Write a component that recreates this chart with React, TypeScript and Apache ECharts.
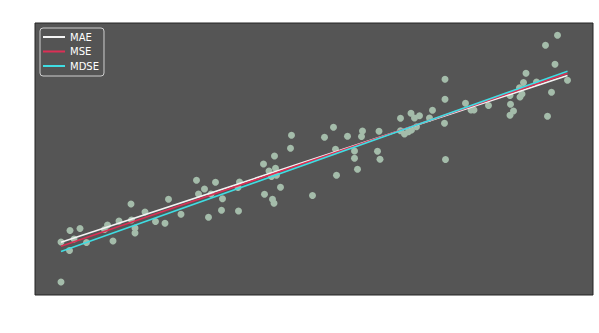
import React, { useEffect, useRef } from "react";
import * as echarts from "echarts";

const pointsX = [
  0.4, 0.4, 2.2, 2.1, 4.2, 3.0, 5.5, 9.1, 9.7, 10.8, 12.0, 14.4, 14.5, 15.2, 15.2, 17.2,
  19.3, 21.2, 21.9, 24.4, 27.5, 27.9, 29.1, 29.9, 30.4, 31.3, 32.5, 32.7, 35.9, 36.1, 35.8,
  40.9, 41.1, 42.0, 42.7, 43.1, 43.0, 43.3, 43.5, 42.5, 44.3, 46.3, 46.5,
  50.7, 53.1, 54.9, 55.3, 55.5, 57.7, 59.1, 59.1, 59.7, 60.5, 60.7, 64.0, 63.7, 64.2,
  68.3, 68.3, 69.1, 69.9, 70.5, 70.4, 71.1, 72.1, 71.5, 74.1, 74.7, 77.2, 77.2, 77.1, 77.3,
  81.3, 82.4, 83.0, 85.9, 90.2, 90.3, 90.9, 90.2, 92.1, 92.6, 92.2, 92.9, 93.4, 95.5,
  97.3, 97.7, 98.5, 99.2, 99.7, 101.7,
];
const pointsY = [
  0, 16, 20.6, 12.6, 21.4, 17.2, 15.8, 21, 22.8, 16.4, 24.4, 31.2, 24.8, 21.6, 19.6, 28,
  24.2, 23.5, 33.1, 27.1, 40.7, 35.2, 37.2, 25.9, 35.2, 39.9, 28.7, 33.3, 28.4, 40, 37.8,
  47.2, 35.1, 44.4, 33.1, 50.4, 31.5, 45.5, 42.7, 42.2, 37.9, 53.5, 58.7,
  34.6, 57.9, 61.9, 53.1, 42.7, 58.3, 52.4, 49.5, 45.1, 58.2, 60.4, 60.3, 52.3, 49.1,
  65.5, 60.5, 59.2, 60.1, 60.8, 67.5, 65.6, 66.5, 62.1, 65.6, 68.7, 81.1, 73.1, 63.5, 49,
  71.5, 68.8, 68.8, 70.6, 74.6, 71.1, 68.4, 66.7, 77.7, 75.2, 74, 79.8, 83.5, 80,
  94.7, 66.3, 75.9, 87.1, 98.7, 80.7,
];

// Fitted regression lines (start and end)
const fitX = [0.4, 101.7];
const maeY = [15.9, 82.6];
const mseY = [14.3, 83.5];
const mdseY = [12.2, 84.3];

const seriesNames = ["MAE", "MSE", "MDSE"];
const seriesColors = ["#f4f4f4", "#dc2f55", "#3fdde3"];

export default function App() {
  const ref = useRef<HTMLDivElement>(null);
  useEffect(() => {
    if (!ref.current) return;
    const chart = echarts.init(ref.current, null, { renderer: "svg" });
    const fits = [maeY, mseY, mdseY];
    chart.setOption({
      animation: false,
      backgroundColor: "#ffffff",
      textStyle: { fontFamily: "DejaVu Sans" },
      grid: {
        left: 35,
        top: 23,
        width: 558,
        height: 272,
        show: true,
        backgroundColor: "#555555",
        borderColor: "#252525",
        borderWidth: 1,
      },
      xAxis: {
        type: "value",
        min: -4.8,
        max: 106.8,
        axisLine: { show: false },
        axisTick: { show: false },
        axisLabel: { show: false },
        splitLine: { show: false },
      },
      yAxis: {
        type: "value",
        min: -5.2,
        max: 103.6,
        axisLine: { show: false },
        axisTick: { show: false },
        axisLabel: { show: false },
        splitLine: { show: false },
      },
      legend: {
        orient: "vertical",
        left: 40,
        top: 28,
        padding: [3, 5, 4, 3],
        itemGap: 2.5,
        itemWidth: 22,
        itemHeight: 2,
        icon: "rect",
        backgroundColor: "rgba(85,85,85,0.85)",
        borderColor: "#cfcfcf",
        borderWidth: 1,
        borderRadius: 3,
        data: seriesNames,
        textStyle: {
          color: "#ffffff",
          fontSize: 10,
          lineHeight: 12,
          fontFamily: "DejaVu Sans",
        },
      },
      series: [
        {
          type: "scatter",
          name: "points",
          data: pointsX.map((x, i) => [x, pointsY[i]]),
          symbolSize: 7,
          itemStyle: { color: "#a4bcaa", opacity: 1 },
          z: 1,
        },
        ...seriesNames.map((name, k) => ({
          type: "line",
          name,
          data: fitX.map((x, i) => [x, fits[k][i]]),
          showSymbol: false,
          symbol: "none",
          lineStyle: { color: seriesColors[k], width: 1.6 },
          itemStyle: { color: seriesColors[k] },
          z: 2 + k,
        })),
      ],
    });
    return () => chart.dispose();
  }, []);
  return (
    <div
      ref={ref}
      style={{ position: "absolute", left: 0, top: 0, width: 599, height: 333 }}
    />
  );
}
